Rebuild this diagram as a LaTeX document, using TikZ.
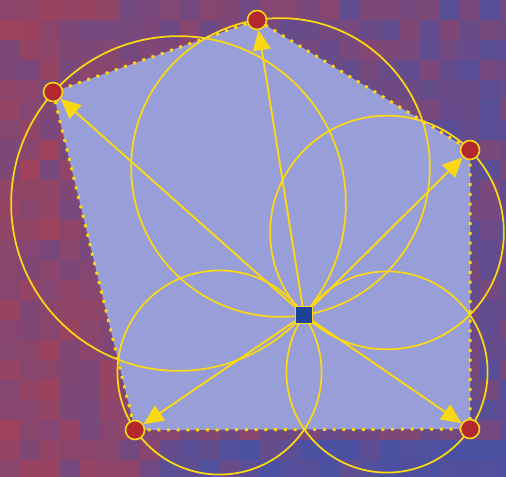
\documentclass[tikz,border=0pt]{standalone}
\usetikzlibrary{arrows.meta,through,calc}

\definecolor{bgred}{RGB}{172,64,80}
\definecolor{bgblue}{RGB}{76,80,160}
\definecolor{hullfill}{RGB}{151,158,216}
\definecolor{ptyellow}{RGB}{250,216,22}
\definecolor{sitered}{RGB}{178,40,44}
\definecolor{queryblue}{RGB}{30,66,152}

\pgfdeclarelayer{bg}
\pgfsetlayers{bg,main}

\begin{document}
\begin{tikzpicture}[x=0.02cm, y=-0.02cm,
  site/.style={circle, draw=ptyellow, fill=sitered, line width=0.9pt, minimum size=0.38cm, inner sep=0pt},
  query/.style={rectangle, draw=ptyellow, fill=queryblue, line width=0.9pt, minimum size=0.34cm, inner sep=0pt},
  ray/.style={ptyellow, line width=1.1pt, -{Triangle[length=0.4cm, width=0.36cm]}},
  ball/.style={draw=ptyellow, line width=1pt, circle through=#1},
  hull/.style={draw=ptyellow, fill=hullfill, line width=0.06cm, dash pattern=on 0.06cm off 0.135cm}]

\useasboundingbox (0,0) rectangle (506,476);

% Define nodes
\node[query] (q) at (304,315) {};
\node[site] (s1) at (257,20) {};
\node[site] (s2) at (470,150) {};
\node[site] (s3) at (470,429) {};
\node[site] (s4) at (135,430) {};
\node[site] (s5) at (53,92) {};

\begin{pgfonlayer}{bg}
  % Noisy background
  \begin{scope}
    \clip (0,0) rectangle (506,476);
    \pgfmathsetseed{5}
    \foreach \x in {0,20,...,500} {
      \foreach \y in {0,20,...,460} {
        \pgfmathtruncatemacro\p{max(0,min(100,68-0.08*\x-(\y>420)*(\x>140)*38+40*rnd-20))}
        \fill[bgred!\p!bgblue] (\x,\y) rectangle ++(20.4,20.4);
      }
    }
  \end{scope}

  % Hull
  \path[hull] (s1.center) -- (s2.center) -- (s3.center) -- (s4.center) -- (s5.center) -- cycle;

  % Circles on q--s diameters
  \foreach \s in {s1,s2,s3,s4,s5}
    \node[ball=(\s.center)] at ($(q)!0.5!(\s)$) {};
\end{pgfonlayer}

% Draw rays
\foreach \s in {s1,s2,s3,s4,s5}
  \draw[ray] (q) -- (\s);

\end{tikzpicture}
\end{document}
